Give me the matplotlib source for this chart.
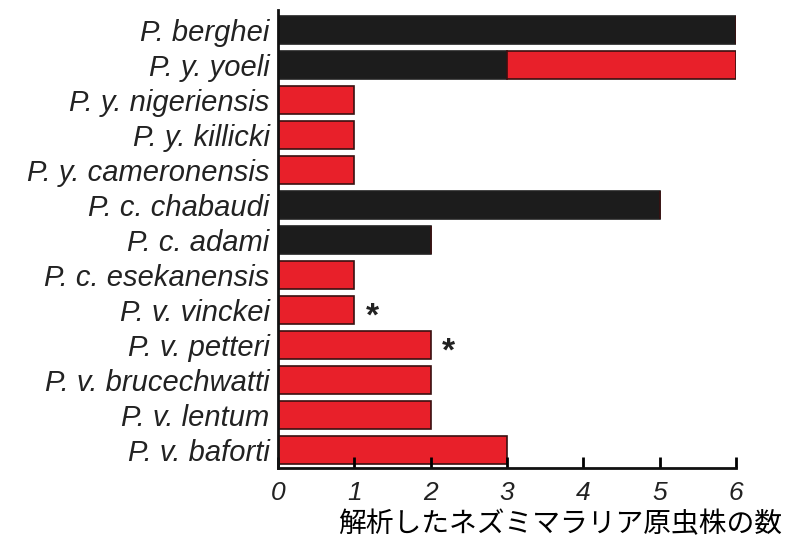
import matplotlib
matplotlib.use("Agg")
import matplotlib.pyplot as plt

species = ["P. berghei", "P. y. yoeli", "P. y. nigeriensis", "P. y. killicki",
           "P. y. cameronensis", "P. c. chabaudi", "P. c. adami", "P. c. esekanensis",
           "P. v. vinckei", "P. v. petteri", "P. v. brucechwatti", "P. v. lentum",
           "P. v. baforti"]
black_vals = [6, 3, 0, 0, 0, 5, 2, 0, 0, 0, 0, 0, 0]
red_vals = [0, 3, 1, 1, 1, 0, 0, 1, 1, 2, 2, 2, 3]
starred = ["P. v. vinckei", "P. v. petteri"]
xticks = [0, 1, 2, 3, 4, 5, 6]
xlabel = "解析したネズミマラリア原虫株の数"

fig = plt.figure(figsize=(7.98, 5.51), dpi=100)
ax = fig.add_axes([278/798, 83/551, 458/798, 458/551])

y = list(range(len(species)))
ax.barh(y, black_vals, height=0.8, color="#1c1c1c", edgecolor="#222222", linewidth=1.2)
ax.barh(y, red_vals, left=black_vals, height=0.8, color="#e8202a", edgecolor="#3a1010", linewidth=1.2)

for i, s in enumerate(species):
    if s in starred:
        ax.text(black_vals[i] + red_vals[i] + 0.15, i + 0.2, "*", fontsize=24,
                ha="left", va="center", color="#222222", family="Liberation Sans",
                weight="bold")

ax.set_xlim(0, 6)
ax.set_ylim(12.51, -0.57)
ax.set_yticks(y)
ax.set_yticklabels(species, fontsize=21, style="italic", family="Liberation Sans",
                   color="#222222")
ax.set_xticks(xticks)
ax.set_xticklabels([str(t) for t in xticks], fontsize=19, style="italic",
                   family="Liberation Sans", color="#222222")
ax.tick_params(axis="y", length=0, pad=6)
ax.tick_params(axis="x", direction="in", length=8, width=2, pad=9)
for side in ["top", "right"]:
    ax.spines[side].set_visible(False)
for side in ["left", "bottom"]:
    ax.spines[side].set_linewidth(2)
    ax.spines[side].set_color("#111111")

fig.text(560/798, 1 - 524/551, xlabel, fontsize=20, ha="center", va="center",
         family=["Noto Sans CJK JP", "DejaVu Sans"])

fig.savefig("out.png", dpi=100)
